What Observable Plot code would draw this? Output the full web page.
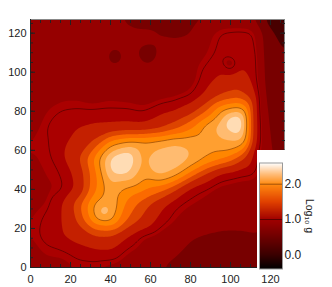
<!DOCTYPE html>
<html><head><meta charset="utf-8">
<script src="https://cdn.jsdelivr.net/npm/d3@7"></script>
<script src="https://cdn.jsdelivr.net/npm/@observablehq/plot@0.6"></script>
<style>html,body{margin:0;padding:0;background:#fff}#c{position:relative;width:332px;height:287px;overflow:hidden}#c svg{position:absolute;display:block}</style>
</head><body><div id="c"></div>
<script>
const xs = [0,8,16,24,32,40,48,56,64,72,80,88,96,104,112,116,120,128];
const ys = [128,120,108,96,88,80,72,64,56,48,40,32,24,16,8,0];
const rows = [
[.85,.85,.85,.85,.85,.8,.72,.7,.7,.68,.68,.72,.8,.78,.72,.55,.3,.05],
[.85,.85,.85,.85,.85,.85,.78,.76,.74,.72,.74,.9,1.02,1.04,1.02,.72,.6,.25],
[.85,.85,.85,.85,.85,.85,.86,.85,.84,.84,.86,.96,1.06,1.18,1.1,.72,.66,.5],
[.85,.85,.85,.85,.85,.85,.85,.85,.85,.85,.88,1.08,1.22,1.28,1.12,.75,.66,.6],
[.85,.86,.92,.92,.88,.92,.9,.88,.9,.92,.98,1.2,1.42,1.52,1.25,.8,.66,.55],
[.78,.96,1.01,1.02,1.01,1.02,1.02,.98,1.08,1.14,1.3,1.6,2.05,2.2,1.2,.85,.7,.45],
[.88,1.0,1.08,1.15,1.2,1.2,1.22,1.2,1.3,1.5,1.75,2.1,2.35,2.7,1.2,.9,.72,.5],
[.95,.98,1.1,1.25,1.45,1.9,2.05,2.05,2.1,2.2,2.18,2.14,2.18,2.18,1.15,.92,.75,.55],
[.95,.95,1.12,1.38,1.85,2.42,2.65,2.12,2.38,2.4,2.22,2.0,1.85,1.55,1.05,.9,.78,.6],
[.88,.96,1.0,1.25,1.72,2.38,2.42,2.08,2.28,2.12,1.75,1.38,1.08,1.02,1.0,.9,.78,.65],
[.72,.92,.97,1.2,1.75,2.15,1.95,1.85,1.7,1.45,1.08,.98,.9,.88,.88,.85,.78,.68],
[.9,.97,1.15,1.55,2.05,2.2,1.75,1.5,1.25,1.02,.95,.9,.88,.86,.86,.84,.78,.7],
[.94,1.03,1.15,1.45,1.95,2.05,1.6,1.35,1.1,.95,.84,.8,.8,.8,.8,.8,.78,.7],
[.94,1.05,1.15,1.25,1.38,1.38,1.15,.96,.9,.85,.76,.74,.72,.72,.74,.72,.7,.7],
[.9,.97,.98,1.05,1.1,1.12,.96,.88,.8,.77,.72,.72,.7,.7,.7,.7,.7,.7],
[.88,.9,.9,.96,.95,.9,.85,.8,.76,.72,.7,.68,.68,.68,.68,.68,.68,.68]
];
const extraX = [37,41,41,41,36,47,58,58,58,52,64,54,62,58,45,70,103,105,108,108,108,108,100,100,100,104,95];
const extraY = [29,108,114,102,108,108,109,117,102,109,109,109,109,105,54,55,73,77,80,72,64,56,104,109,99,104,104];
const extraV = [2.5,.2,.85,.85,.85,.85,.3,.9,.85,.85,.85,.68,.68,.65,2.85,2.38,2.85,2.6,2.02,2.08,2.02,1.35,.62,1.1,1.12,1.14,1.1];
const thresholds = [.2,.5,.75,.95,1.15,1.4,1.6,1.8,2.0,2.2,2.4];
const bandColors = ["#150000","#480000","#780000","#960000","#aa0000","#c42000","#dd4400","#fb6a00","#ff8600","#ff9f30","#ffbb70","#ffdcb4"];
const barStops = ["#000000","#3a0000","#a00000","#e04000","#ff8a10","#ffc080","#ffffff"];
const barValues = [-.4,0,1,1.5,2,2.3,2.6];
const xTicks = [0,20,40,60,80,100,120];
const yTicks = [0,20,40,60,80,100,120];
const minorTicks = d3.range(0,128,5);
const barTicks = [0,1,2];

const pts = [];
rows.forEach((r,j)=>r.forEach((v,i)=>pts.push({x:xs[i],y:ys[j],v})));
extraX.forEach((x,i)=>pts.push({x,y:extraY[i],v:extraV[i]}));
const ink = "#222";
const font = "'Liberation Sans',Arial,sans-serif";
const blur = 4;
const main = Plot.plot({
  width:332,height:287,marginLeft:30,marginRight:48,marginTop:19,marginBottom:20,
  style:{fontFamily:font,fontSize:"12px",background:"transparent",color:ink},
  x:{domain:[0,127],label:null,axis:null},
  y:{domain:[0,127],label:null,axis:null},
  color:{type:"threshold",domain:thresholds,range:bandColors},
  marks:[
    Plot.contour(pts,{x:"x",y:"y",fill:"v",interpolate:"barycentric",thresholds:[-1,...thresholds],pixelSize:1,blur,stroke:"none",clip:true}),
    Plot.contour(pts,{x:"x",y:"y",value:"v",interpolate:"barycentric",thresholds:[1],pixelSize:1,blur,fill:"none",stroke:"#5a0000",strokeWidth:.8,clip:true}),
    Plot.contour(pts,{x:"x",y:"y",value:"v",interpolate:"barycentric",thresholds:[2],pixelSize:1,blur,fill:"none",stroke:"#a05008",strokeWidth:.8,clip:true}),
    Plot.frame({stroke:"#888",strokeWidth:1}),
    Plot.ruleX([0],{stroke:"#222"}),
    Plot.ruleY([0],{stroke:"#222"}),
    Plot.axisX({anchor:"bottom",ticks:minorTicks,tickSize:-3,text:null,label:null,stroke:"#222"}),
    Plot.axisX({anchor:"bottom",ticks:xTicks,tickSize:-5,text:null,label:null,stroke:"#222"}),
    Plot.axisX({anchor:"top",ticks:minorTicks,tickSize:-3,text:null,label:null,stroke:"#222"}),
    Plot.axisX({anchor:"top",ticks:xTicks,tickSize:-5,text:null,label:null,stroke:"#222"}),
    Plot.axisY({anchor:"left",ticks:minorTicks,tickSize:-3,text:null,label:null,stroke:"#222"}),
    Plot.axisY({anchor:"left",ticks:yTicks,tickSize:-5,text:null,label:null,stroke:"#222"}),
    Plot.axisY({anchor:"right",ticks:minorTicks,tickSize:-3,text:null,label:null,stroke:"#222"}),
    Plot.axisY({anchor:"right",ticks:yTicks,tickSize:-5,text:null,label:null,stroke:"#222"}),
    Plot.axisX({anchor:"bottom",ticks:xTicks,tickSize:0,tickPadding:8,label:null,fill:ink,fontSize:11}),
    Plot.axisY({anchor:"left",ticks:yTicks,tickSize:0,tickPadding:4,label:null,fill:ink,fontSize:11})
  ]
});
const barInterp = d3.scaleLinear().domain(barValues).range(barStops).interpolate(d3.interpolateRgb);
const bar = Plot.plot({
  width:75,height:121,marginLeft:2,marginRight:50,marginTop:12.5,marginBottom:2.5,
  style:{fontFamily:font,fontSize:"12px",background:"#fff",color:ink},
  x:{domain:[0,1],axis:null},
  y:{domain:[-.4,2.6],axis:null},
  color:{type:"linear",domain:[-.4,2.6],interpolate:t=>barInterp(-.4+3*t)},
  marks:[
    Plot.raster({fill:(x,y)=>y,x1:0,x2:1,y1:-.4,y2:2.6,pixelSize:1,imageRendering:"auto"}),
    Plot.ruleY([1],{stroke:"#5a0000",strokeWidth:1}),
    Plot.ruleY([2],{stroke:"#a05008",strokeWidth:1}),
    Plot.frame({stroke:"#999",strokeWidth:1}),
    Plot.axisY({anchor:"right",ticks:barTicks,tickSize:0,tickPadding:2,tickFormat:d3.format(".1f"),label:null,fill:ink,fontSize:12}),
    Plot.text(["Log₁₀ g"],{frameAnchor:"right",dx:27,rotate:90,textAnchor:"middle",fontSize:10.5,fill:ink})
  ]
});
bar.style.left="257px";bar.style.top="149.5px";
const c=document.getElementById("c");
main.style.left="0";main.style.top="0";
c.append(main,bar);
</script></body></html>
